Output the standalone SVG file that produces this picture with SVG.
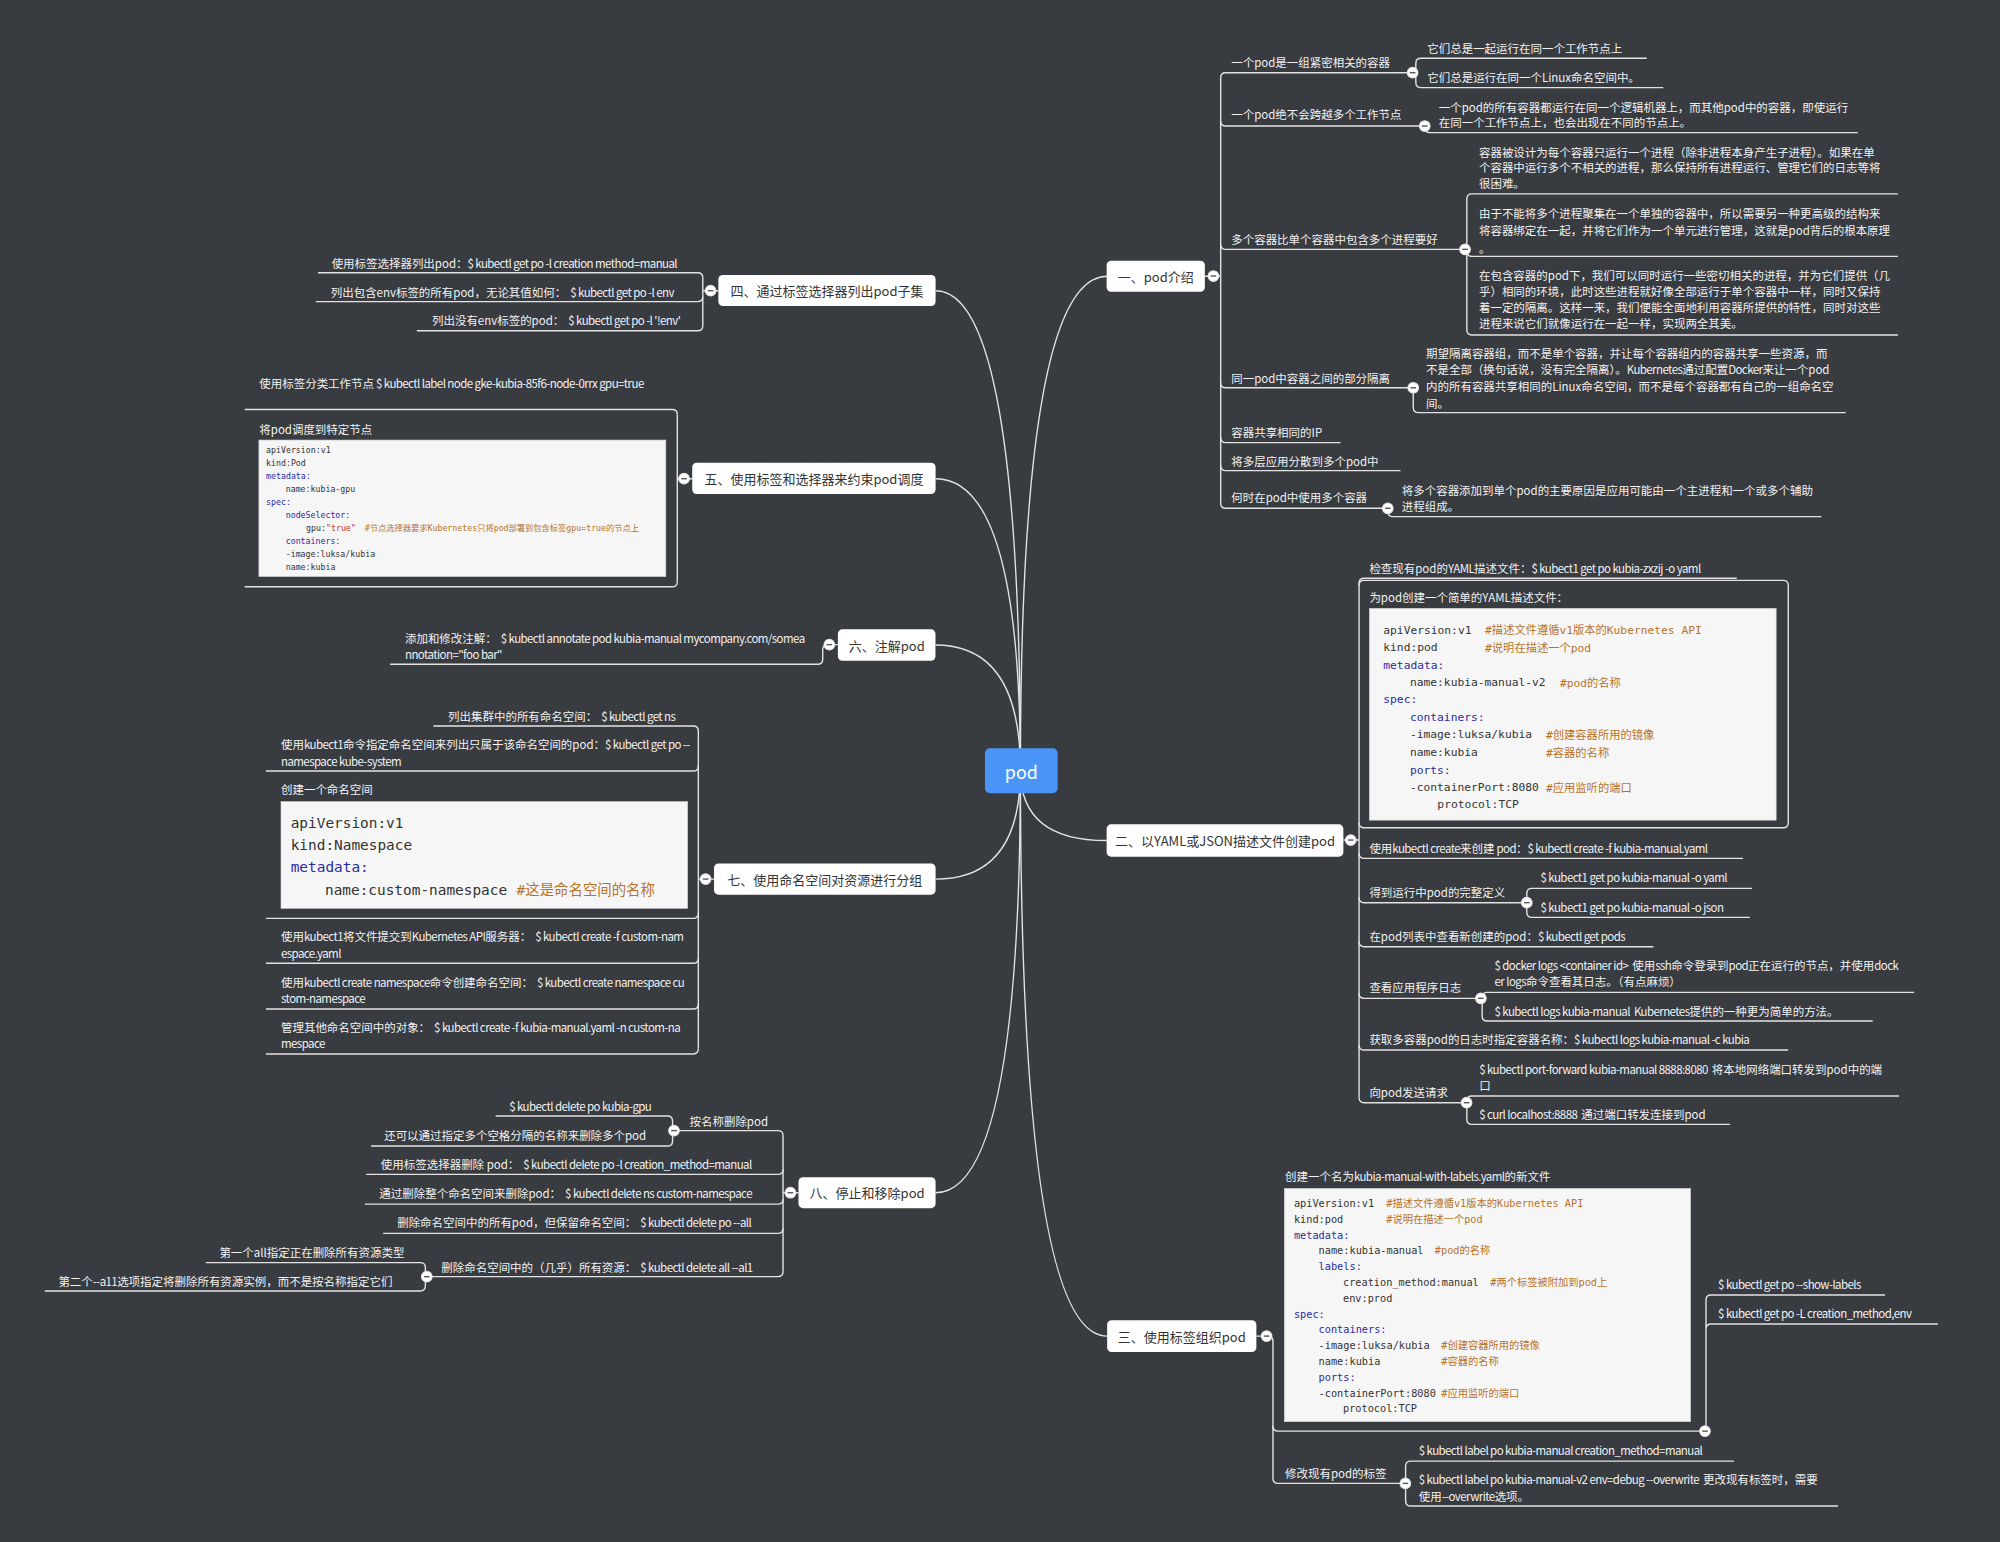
<svg xmlns="http://www.w3.org/2000/svg" xmlns:xlink="http://www.w3.org/1999/xlink" width="2000" height="1542" viewBox="0 0 2000 1542">
<style>
.t{font-family:"Noto Sans CJK SC","Noto Sans",sans-serif;font-size:9px;fill:#f2f2f2;dominant-baseline:central;white-space:pre}
.l{letter-spacing:-0.44px}
.b{font-family:"Noto Sans CJK SC","Noto Sans",sans-serif;font-size:10.2px;fill:#333;text-anchor:middle;dominant-baseline:central}
.nb{fill:#fff}
.ln{fill:none;stroke:#e3e3e3;stroke-width:1.1}
.cbx{fill:#f6f6f6;stroke:#d5d5d5;stroke-width:.5}
.m{font-family:"DejaVu Sans Mono","Noto Sans CJK SC",monospace;fill:#333;dominant-baseline:central;white-space:pre}
.m2{font-size:8.85px}.m3{font-size:8.04px}.m5{font-size:6.48px}.m7{font-size:11.3px}
.k{fill:#2b2ba6}.c{fill:#b8732a}.s{fill:#c0392b}
</style>
<defs>
<g id="cb"><circle r="4.2" fill="#fff" stroke="#e3e3e3" stroke-width="0.8"/><path d="M-2.2 0H2.2" stroke="#555" stroke-width="1.1"/></g>
</defs>
<rect width="2000" height="1542" fill="#383b40"/>
<g transform="scale(1.27551)">
<g id="connectors" class="ln">
<path d="M800 604Q800 216.6 868 216.6"/>
<path d="M800 604Q800 659 867.6 659"/>
<path d="M800 604Q800 1047.5 868 1047.5"/>
<path d="M800 604Q800 227.9 733.5 227.9"/>
<path d="M800 604Q800 375.3 733.5 375.3"/>
<path d="M800 604Q800 505.7 733.4 505.7"/>
<path d="M800 604Q800 689.2 733.5 689.2"/>
<path d="M800 604Q800 935.1 733.5 935.1"/>
<path d="M944.5 216.6H957M957 61V394.5"/>
<path d="M957 61Q957 57 961 57H1107.5"/>
<path d="M957 94.8Q957 98.8 961 98.8H1117"/>
<path d="M957 191.5Q957 195.5 961 195.5H1148.6"/>
<path d="M957 300Q957 304 961 304H1108"/>
<path d="M957 343Q957 347 961 347H1051"/>
<path d="M957 365Q957 369 961 369H1098"/>
<path d="M957 394.5Q957 398.5 961 398.5H1088"/>
<path d="M1107.5 57H1110M1110 49.7V64.7M1110 49.7Q1110 45.7 1114 45.7H1291M1110 64.7Q1110 68.7 1114 68.7H1304"/>
<path d="M1117 98.8V100Q1117 104 1121 104H1456.4"/>
<path d="M1148.6 195.5H1150M1150 156V258.6M1150 156Q1150 152 1154 152H1488M1150 197Q1150 201 1154 201H1488M1150 258.6Q1150 262.6 1154 262.6H1488"/>
<path d="M1108 304V319.5Q1108 323.5 1112 323.5H1447"/>
<path d="M1088 398.5V401Q1088 405 1092 405H1428"/>
<path d="M1053.2 658.6H1065.5M1065.5 457.4V860.5"/>
<path d="M1065.5 457.4Q1065.5 453.4 1069.5 453.4H1361.6"/>
<path d="M1065.5 459Q1065.5 455 1069.5 455H1398Q1402 455 1402 459V645Q1402 649 1398 649H1069.5Q1065.5 649 1065.5 645"/>
<path d="M1065.5 669Q1065.5 673 1069.5 673H1366.6"/>
<path d="M1065.5 703.7Q1065.5 707.7 1069.5 707.7H1197"/>
<path d="M1065.5 738.2Q1065.5 742.2 1069.5 742.2H1296.3"/>
<path d="M1065.5 778.7Q1065.5 782.7 1069.5 782.7H1161"/>
<path d="M1065.5 819.2Q1065.5 823.2 1069.5 823.2H1401.9"/>
<path d="M1065.5 860.5Q1065.5 864.5 1069.5 864.5H1149.8"/>
<path d="M1197 700.5V715.2M1197 700.5Q1197 696.5 1201 696.5H1373.6M1197 715.2Q1197 719.2 1201 719.2H1371.9"/>
<path d="M1162 782V796.5M1162 782Q1162 778 1166 778H1500.7M1162 796.5Q1162 800.5 1166 800.5H1468.2"/>
<path d="M1150 863.3V877.5M1150 863.3Q1150 859.3 1154 859.3H1488.9M1150 877.5Q1150 881.5 1154 881.5H1356.4"/>
<path d="M985 1047.5H994Q998 1047.5 998 1051.5V1159Q998 1163 1002 1163H1101.8"/>
<path d="M998 1118Q998 1122 1002 1122H1336.7"/>
<path d="M1337.5 1122V1042Q1337.5 1038 1341.5 1038H1519.3M1337.5 1042V1019.3Q1337.5 1015.3 1341.5 1015.3H1477.9"/>
<path d="M1102 1149.5V1176.7M1102 1149.5Q1102 1145.5 1106 1145.5H1359.5M1102 1176.7Q1102 1180.7 1106 1180.7H1441"/>
<path d="M563.2 227.9H551M551 217.8V255.3"/>
<path d="M249.3 213.8H547Q551 213.8 551 217.8"/>
<path d="M247.6 236.5H547Q551 236.5 551 232.5"/>
<path d="M326.8 259.3H547Q551 259.3 551 255.3"/>
<path d="M542.7 375.3H531M531 325V456"/>
<path d="M191.8 321H527Q531 321 531 325"/>
<path d="M191.8 460H527Q531 460 531 456"/>
<path d="M305.8 520.8H641Q645 520.8 645 516.8V509.4Q645 505.4 649 505.4H656.9"/>
<path d="M559.8 689.2H547.5M547.5 573.2V822.3"/>
<path d="M339.8 569.2H543.5Q547.5 569.2 547.5 573.2"/>
<path d="M208.5 604.5H543.5Q547.5 604.5 547.5 600.5"/>
<path d="M208.5 720H543.5Q547.5 720 547.5 716"/>
<path d="M208.5 755.2H543.5Q547.5 755.2 547.5 751.2"/>
<path d="M208.5 791.1H543.5Q547.5 791.1 547.5 787.1"/>
<path d="M208.5 826.3H543.5Q547.5 826.3 547.5 822.3"/>
<path d="M626 935.1H613.9M613.9 890.4V996.9"/>
<path d="M528.4 886.4H609.9Q613.9 886.4 613.9 890.4"/>
<path d="M287.1 920.7H609.9Q613.9 920.7 613.9 916.7"/>
<path d="M286 944H609.9Q613.9 944 613.9 940"/>
<path d="M300.4 967H609.9Q613.9 967 613.9 963"/>
<path d="M334.6 1000.9H609.9Q613.9 1000.9 613.9 996.9"/>
<path d="M527.3 879V894.5M388.6 875H523.3Q527.3 875 527.3 879M290.9 898.5H523.3Q527.3 898.5 527.3 894.5"/>
<path d="M333.5 993.9V1008.1M161.4 989.9H329.5Q333.5 989.9 333.5 993.9M35.1 1012.1H329.5Q333.5 1012.1 333.5 1008.1"/>
</g>

<g id="n-pod"><rect x="772.2" y="586.7" width="57" height="35.3" rx="4" fill="#4a94f7"/><text x="800.7" y="604.3" style="font-family:'Noto Sans CJK SC','Noto Sans',sans-serif;font-size:14px;fill:#fff;text-anchor:middle;dominant-baseline:central">pod</text></g>

<g id="n-1"><rect class="nb" x="867.6" y="204.4" width="77" height="24.3" rx="3.5"/><text class="b" x="906.1" y="216.6">一、pod介绍</text></g>
<g id="n-2"><rect class="nb" x="867.6" y="646.3" width="185.6" height="25.3" rx="3.5"/><text class="b" x="960.4" y="659">二、以YAML或JSON描述文件创建pod</text></g>
<g id="n-3"><rect class="nb" x="868" y="1035" width="117" height="25" rx="3.5"/><text class="b" x="926.5" y="1047.5">三、使用标签组织pod</text></g>
<g id="n-4"><rect class="nb" x="563.2" y="215.6" width="170.3" height="24.3" rx="3.5"/><text class="b" x="648.4" y="227.9">四、通过标签选择器列出pod子集</text></g>
<g id="n-5"><rect class="nb" x="542.7" y="362.7" width="190.8" height="24.6" rx="3.5"/><text class="b" x="638.1" y="375.1">五、使用标签和选择器来约束pod调度</text></g>
<g id="n-6"><rect class="nb" x="656.9" y="493.4" width="76.5" height="24.6" rx="3.5"/><text class="b" x="695.2" y="505.8">六、注解pod</text></g>
<g id="n-7"><rect class="nb" x="559.8" y="677" width="173.7" height="24.4" rx="3.5"/><text class="b" x="646.7" y="689.2">七、使用命名空间对资源进行分组</text></g>
<g id="n-8"><rect class="nb" x="626" y="923" width="107.5" height="24.2" rx="3.5"/><text class="b" x="679.8" y="935.1">八、停止和移除pod</text></g>

<g id="collapse">
<use href="#cb" x="951.3" y="216.4"/><use href="#cb" x="1059" y="658.6"/><use href="#cb" x="993" y="1047.5"/>
<use href="#cb" x="1107.5" y="57"/><use href="#cb" x="1117" y="98.8"/><use href="#cb" x="1148.6" y="195.5"/><use href="#cb" x="1108" y="304"/><use href="#cb" x="1088" y="398.5"/>
<use href="#cb" x="1197" y="707.7"/><use href="#cb" x="1161" y="782.7"/><use href="#cb" x="1149.8" y="864.5"/>
<use href="#cb" x="1336.7" y="1122"/><use href="#cb" x="1101.8" y="1163"/>
<use href="#cb" x="557.1" y="227.9"/><use href="#cb" x="536.3" y="375.3"/><use href="#cb" x="650.2" y="505.4"/><use href="#cb" x="553.2" y="689.2"/><use href="#cb" x="619.7" y="935.1"/>
<use href="#cb" x="528.4" y="886.4"/><use href="#cb" x="334.6" y="1000.9"/>
</g>

<g id="t-1">
<text class="t" x="965.3" y="49">一个pod是一组紧密相关的容器</text>
<text class="t" x="1119" y="37.4">它们总是一起运行在同一个工作节点上</text>
<text class="t" x="1119" y="60">它们总是运行在同一个Linux命名空间中。</text>
<text class="t" x="965.3" y="89.6">一个pod绝不会跨越多个工作节点</text>
<text class="t" x="1128" y="84">一个pod的所有容器都运行在同一个逻辑机器上，而其他pod中的容器，即使运行</text>
<text class="t" x="1128" y="96">在同一个工作节点上，也会出现在不同的节点上。</text>
<text class="t" x="965.3" y="187">多个容器比单个容器中包含多个进程要好</text>
<text class="t" x="1159.5" y="119">容器被设计为每个容器只运行一个进程（除非进程本身产生子进程）。如果在单</text>
<text class="t" x="1159.5" y="131.3">个容器中运行多个不相关的进程，那么保持所有进程运行、管理它们的日志等将</text>
<text class="t" x="1159.5" y="143.7">很困难。</text>
<text class="t" x="1159.5" y="166.7">由于不能将多个进程聚集在一个单独的容器中，所以需要另一种更高级的结构来</text>
<text class="t" x="1159.5" y="180.3">将容器绑定在一起，并将它们作为一个单元进行管理，这就是pod背后的根本原理</text>
<text class="t" x="1159.5" y="194.2">。</text>
<text class="t" x="1159.5" y="215.6">在包含容器的pod下，我们可以同时运行一些密切相关的进程，并为它们提供（几</text>
<text class="t" x="1159.5" y="228.2">乎）相同的环境，此时这些进程就好像全部运行于单个容器中一样，同时又保持</text>
<text class="t" x="1159.5" y="241">着一定的隔离。这样一来，我们便能全面地利用容器所提供的特性，同时对这些</text>
<text class="t" x="1159.5" y="253.5">进程来说它们就像运行在一起一样，实现两全其美。</text>
<text class="t" x="965.3" y="296">同一pod中容器之间的部分隔离</text>
<text class="t" x="1118" y="277">期望隔离容器组，而不是单个容器，并让每个容器组内的容器共享一些资源，而</text>
<text class="t" x="1118" y="289.6">不是全部（换句话说，没有完全隔离）。<tspan class="l">Kubernetes</tspan>通过配置<tspan class="l">Docker</tspan>来让一个pod</text>
<text class="t" x="1118" y="302.6">内的所有容器共享相同的Linux命名空间，而不是每个容器都有自己的一组命名空</text>
<text class="t" x="1118" y="315.7">间。</text>
<text class="t" x="965.3" y="338.4">容器共享相同的IP</text>
<text class="t" x="965.3" y="361.2">将多层应用分散到多个pod中</text>
<text class="t" x="965.3" y="390">何时在pod中使用多个容器</text>
<text class="t" x="1099" y="384">将多个容器添加到单个pod的主要原因是应用可能由一个主进程和一个或多个辅助</text>
<text class="t" x="1099" y="397">进程组成。</text>
</g>

<g id="t-2">
<text class="t" x="1073.6" y="445.6">检查现有pod的<tspan class="l">YAML</tspan>描述文件：<tspan class="l">$ kubect1 get po kubia-zxzij -o yaml</tspan></text>
<text class="t" x="1073.6" y="467.8">为pod创建一个简单的YAML描述文件：</text>
<rect class="cbx" x="1073.6" y="477" width="318.9" height="166"/>
<g class="m m2">
<text x="1084.5" y="494">apiVersion:v1<tspan class="c" x="1164.3">#描述文件遵循v1版本的Kubernetes API</tspan></text>
<text x="1084.5" y="507.8">kind:pod<tspan class="c" x="1164.3">#说明在描述一个pod</tspan></text>
<text x="1084.5" y="521.4" class="k">metadata:</text>
<text x="1105.4" y="535.2">name:kubia-manual-v2<tspan class="c" x="1223">#pod的名称</tspan></text>
<text x="1084.5" y="548.8" class="k">spec:</text>
<text x="1105.4" y="562.4" class="k">containers:</text>
<text x="1105.4" y="576.2">-image:luksa/kubia<tspan class="c" x="1212.1">#创建容器所用的镜像</tspan></text>
<text x="1105.4" y="590.1">name:kubia<tspan class="c" x="1212.1">#容器的名称</tspan></text>
<text x="1105.4" y="603.7" class="k">ports:</text>
<text x="1105.4" y="617.6">-containerPort:8080<tspan class="c" x="1212.1">#应用监听的端口</tspan></text>
<text x="1126.9" y="631.1">protocol:TCP</text>
</g>
<text class="t" x="1073.6" y="664.6">使用<tspan class="l">kubectl create</tspan>来创建<tspan class="l"> pod</tspan>：<tspan class="l">$ kubectl create -f kubia-manual.yaml</tspan></text>
<text class="t" x="1073.6" y="699">得到运行中pod的完整定义</text>
<text class="t l" x="1207.8" y="687.9">$ kubect1 get po kubia-manual -o yaml</text>
<text class="t l" x="1207.8" y="710.8">$ kubect1 get po kubia-manual -o json</text>
<text class="t" x="1073.6" y="733.6">在pod列表中查看新创建的pod：<tspan class="l">$ kubectl get pods</tspan></text>
<text class="t" x="1073.6" y="774">查看应用程序日志</text>
<text class="t" x="1171.7" y="756.6"><tspan class="l">$ docker logs &lt;container id&gt;  </tspan>使用<tspan class="l">ssh</tspan>命令登录到<tspan class="l">pod</tspan>正在运行的节点，并使用<tspan class="l">dock</tspan></text>
<text class="t" x="1171.7" y="769.1"><tspan class="l">er logs</tspan>命令查看其日志。（有点麻烦）</text>
<text class="t" x="1171.7" y="792.4"><tspan class="l">$ kubectl logs kubia-manual  Kubernetes</tspan>提供的一种更为简单的方法。</text>
<text class="t" x="1073.6" y="814.9">获取多容器pod的日志时指定容器名称：<tspan class="l">$ kubectl logs kubia-manual -c kubia</tspan></text>
<text class="t" x="1073.6" y="855.9">向pod发送请求</text>
<text class="t" x="1159.7" y="838.1"><tspan class="l">$ kubectl port-forward kubia-manual 8888:8080  </tspan>将本地网络端口转发到pod中的端</text>
<text class="t" x="1159.7" y="850.7">口</text>
<text class="t" x="1159.7" y="873.7"><tspan class="l">$ curl localhost:8888  </tspan>通过端口转发连接到pod</text>
</g>

<g id="t-3">
<text class="t" x="1007.5" y="922">创建一个名为<tspan class="l">kubia-manual-with-labels.yaml</tspan>的新文件</text>
<rect class="cbx" x="1006.9" y="931.7" width="318.5" height="182.9"/>
<g class="m m3">
<text x="1014.4" y="942.9">apiVersion:v1<tspan class="c" x="1086.8">#描述文件遵循v1版本的Kubernetes API</tspan></text>
<text x="1014.4" y="955.7">kind:pod<tspan class="c" x="1086.8">#说明在描述一个pod</tspan></text>
<text x="1014.4" y="968" class="k">metadata:</text>
<text x="1033.8" y="980.3">name:kubia-manual<tspan class="c" x="1124.9">#pod的名称</tspan></text>
<text x="1033.8" y="992.8" class="k">labels:</text>
<text x="1052.9" y="1005.1">creation_method:manual<tspan class="c" x="1168.4">#两个标签被附加到pod上</tspan></text>
<text x="1052.9" y="1017.4">env:prod</text>
<text x="1014.4" y="1030" class="k">spec:</text>
<text x="1033.8" y="1042.2" class="k">containers:</text>
<text x="1033.8" y="1054.7">-image:luksa/kubia<tspan class="c" x="1130">#创建容器所用的镜像</tspan></text>
<text x="1033.8" y="1067">name:kubia<tspan class="c" x="1130">#容器的名称</tspan></text>
<text x="1033.8" y="1079.6" class="k">ports:</text>
<text x="1033.8" y="1091.9">-containerPort:8080<tspan class="c" x="1130">#应用监听的端口</tspan></text>
<text x="1052.9" y="1104.1">protocol:TCP</text>
</g>
<text class="t l" x="1347" y="1006.7">$ kubectl get po --show-labels</text>
<text class="t l" x="1347" y="1029.7">$ kubectl get po -L creation_method,env</text>
<text class="t" x="1007.5" y="1154.6">修改现有pod的标签</text>
<text class="t l" x="1112.3" y="1136.8">$ kubectl label po kubia-manual creation_method=manual</text>
<text class="t" x="1112.3" y="1159.8"><tspan class="l">$ kubectl label po kubia-manual-v2 env=debug --overwrite  </tspan>更改现有标签时，需要</text>
<text class="t" x="1112.3" y="1172.6">使用<tspan class="l">--overwrite</tspan>选项。</text>
</g>

<g id="t-4">
<text class="t" x="260" y="206">使用标签选择器列出pod：<tspan class="l">$ kubectl get po -l creation method=manual</tspan></text>
<text class="t" x="259.3" y="228.7">列出包含env标签的所有pod，无论其值如何：<tspan class="l">  $ kubectl get po -l env</tspan></text>
<text class="t" x="338.7" y="251">列出没有env标签的pod：<tspan class="l">  $ kubectl get po -l '!env'</tspan></text>
</g>

<g id="t-5">
<text class="t" x="203.3" y="300">使用标签分类工作节点<tspan class="l"> $ kubectl label node gke-kubia-85f6-node-0rrx gpu=true</tspan></text>
<text class="t" x="203.3" y="336">将pod调度到特定节点</text>
<rect class="cbx" x="203" y="345" width="319" height="107"/>
<g class="m m5">
<text x="208.6" y="353">apiVersion:v1</text>
<text x="208.6" y="363">kind:Pod</text>
<text x="208.6" y="373.3" class="k">metadata:</text>
<text x="224" y="383.5">name:kubia-gpu</text>
<text x="208.6" y="393.8" class="k">spec:</text>
<text x="224" y="404" class="k">nodeSelector:</text>
<text x="240" y="414.2">gpu:<tspan class="s">"true"</tspan><tspan class="c" x="286">#节点选择器要求Kubernetes只将pod部署到包含标签gpu=true的节点上</tspan></text>
<text x="224" y="424.3" class="k">containers:</text>
<text x="224" y="434.4">-image:luksa/kubia</text>
<text x="224" y="444.4">name:kubia</text>
</g>
</g>

<g id="t-6">
<text class="t" x="317.5" y="500.4">添加和修改注解：<tspan class="l">  $ kubectl annotate pod kubia-manual mycompany.com/somea</tspan></text>
<text class="t l" x="317.5" y="512.7">nnotation="foo bar"</text>
</g>

<g id="t-7">
<text class="t" x="351.3" y="561.2">列出集群中的所有命名空间：<tspan class="l">  $ kubectl get ns</tspan></text>
<text class="t" x="220.3" y="583.6">使用<tspan class="l">kubect1</tspan>命令指定命名空间来列出只属于该命名空间的pod：<tspan class="l">$ kubectl get po --</tspan></text>
<text class="t l" x="220.3" y="596.6">namespace kube-system</text>
<text class="t" x="220.3" y="618.8">创建一个命名空间</text>
<rect class="cbx" x="220.3" y="628.5" width="318.8" height="83.6"/>
<g class="m m7">
<text x="227.9" y="645">apiVersion:v1</text>
<text x="227.9" y="662.5">kind:Namespace</text>
<text x="227.9" y="680" class="k">metadata:</text>
<text x="254.8" y="697.8">name:custom-namespace<tspan class="c" x="405">#这是命名空间的名称</tspan></text>
</g>
<text class="t" x="220.3" y="733.8">使用<tspan class="l">kubect1</tspan>将文件提交到<tspan class="l">Kubernetes API</tspan>服务器：<tspan class="l">  $ kubectl create -f custom-nam</tspan></text>
<text class="t l" x="220.3" y="746.9">espace.yaml</text>
<text class="t" x="220.3" y="769.6">使用<tspan class="l">kubectl create namespace</tspan>命令创建命名空间：<tspan class="l">  $ kubectl create namespace cu</tspan></text>
<text class="t l" x="220.3" y="782.7">stom-namespace</text>
<text class="t" x="220.3" y="805.4">管理其他命名空间中的对象：<tspan class="l">  $ kubectl create -f kubia-manual.yaml -n custom-na</tspan></text>
<text class="t l" x="220.3" y="818">mespace</text>
</g>

<g id="t-8">
<text class="t" x="540.6" y="878.6">按名称删除pod</text>
<text class="t l" x="399.2" y="866.8">$ kubectl delete po kubia-gpu</text>
<text class="t" x="301.2" y="889.9">还可以通过指定多个空格分隔的名称来删除多个pod</text>
<text class="t" x="298.6" y="912.6">使用标签选择器删除 pod：<tspan class="l">  $ kubectl delete po -l creation_method=manual</tspan></text>
<text class="t" x="297.4" y="935.6">通过删除整个命名空间来删除pod：<tspan class="l">  $ kubectl delete ns custom-namespace</tspan></text>
<text class="t" x="311.4" y="958.3">删除命名空间中的所有pod，但保留命名空间：<tspan class="l">  $ kubectl delete po --all</tspan></text>
<text class="t" x="346" y="993.1">删除命名空间中的（几乎）所有资源：<tspan class="l">  $ kubectl delete all --al1</tspan></text>
<text class="t" x="172" y="981.8">第一个all指定正在删除所有资源类型</text>
<text class="t" x="45.8" y="1004.3">第二个<tspan class="l">--a11</tspan>选项指定将删除所有资源实例，而不是按名称指定它们</text>
</g>
</g>
</svg>
